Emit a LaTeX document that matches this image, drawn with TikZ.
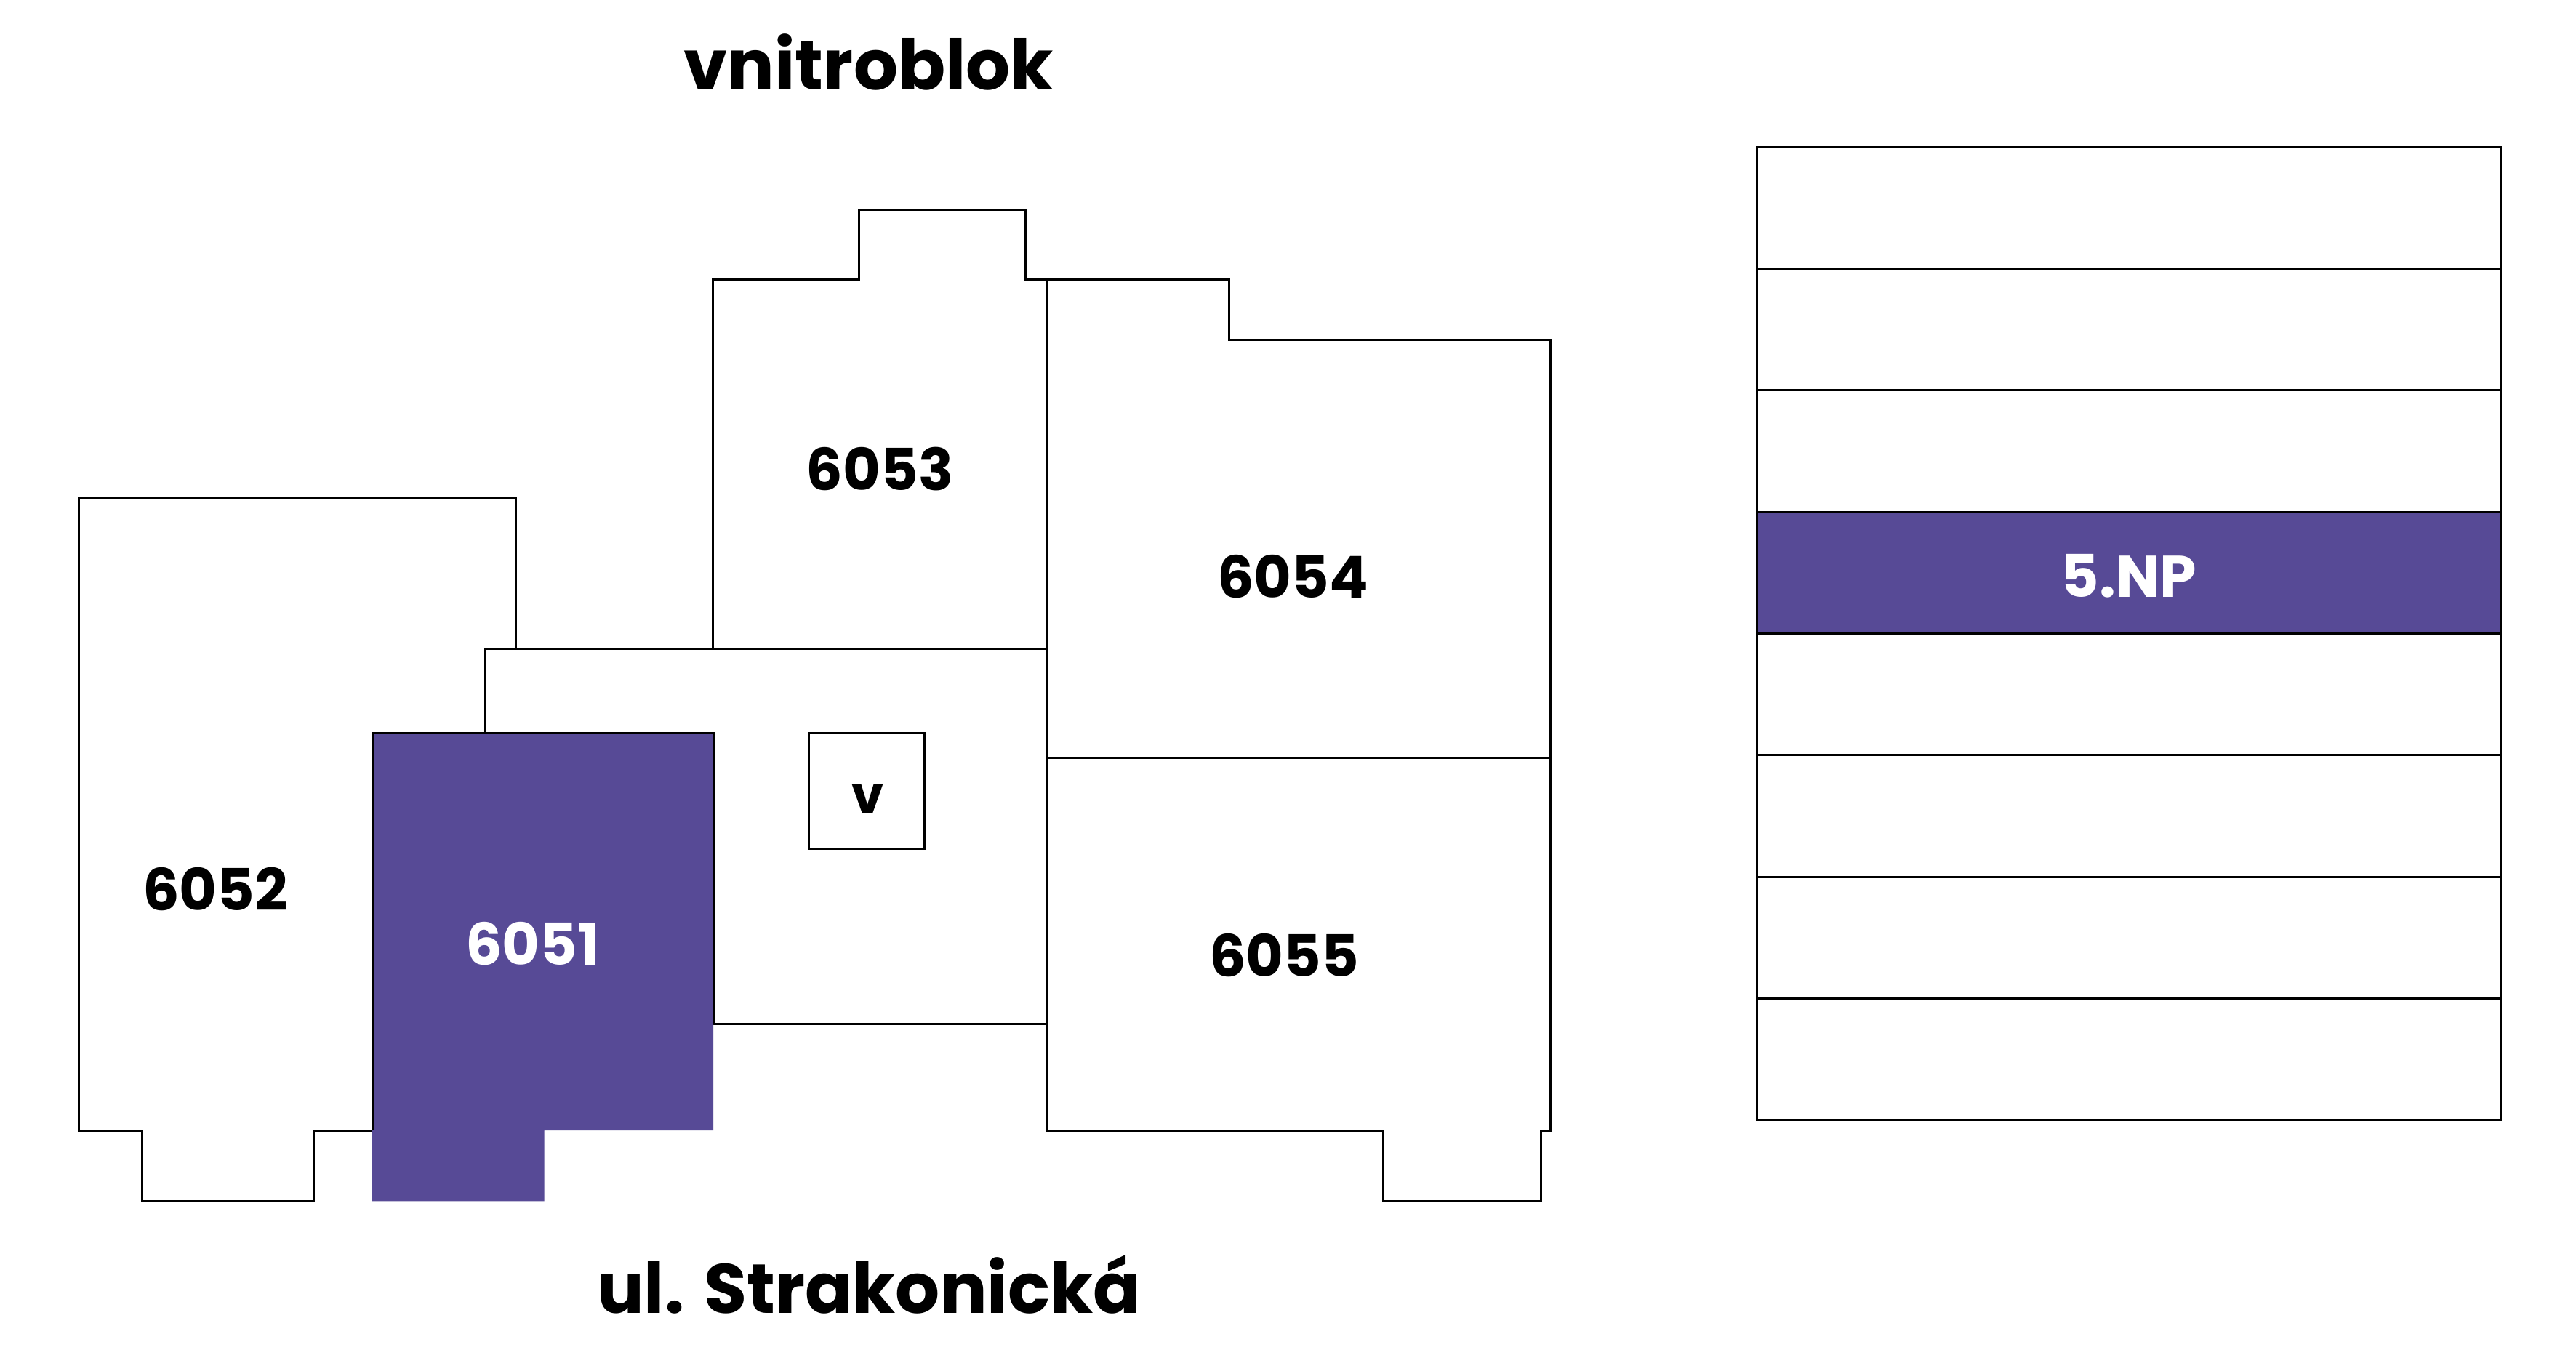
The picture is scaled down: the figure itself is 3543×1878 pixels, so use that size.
\documentclass[tikz,border=0pt]{standalone}
\usepackage{fontspec}
\setmainfont{Poppins}
\usepackage{tikz}
\usetikzlibrary{positioning, calc}
\definecolor{planviolet}{HTML}{574A96}
\tikzstyle{wall} = [line width=0.85pt, line join=miter, draw=black]
\tikzstyle{roomlabel} = [anchor=base, inner sep=0pt, font=\fontsize{22.6}{24}\selectfont\bfseries]
\tikzstyle{streetlabel} = [anchor=base, inner sep=0pt, font=\fontsize{27.3}{33}\selectfont\bfseries]
\tikzstyle{floorbar} = [rectangle, minimum width=10.22cm, minimum height=1.672cm, inner sep=0pt, line width=0.85pt, draw=black, fill=white]

\begin{document}
\begin{tikzpicture}[x=0.01cm, y=-0.01cm, node distance=1.672cm]
        \useasboundingbox [fill=white] (0,0) rectangle (3543,1878);

        % rooms of the floor plan
        \draw [wall] (512,1555) -- (431.6,1555) -- (431.6,1652.3) -- (195,1652.3) -- (195,1555) -- (108.7,1555) -- (108.7,684.3) -- (709.4,684.3) -- (709.4,892);
        \draw [wall] (667.3,1008) -- (667.3,892) -- (1440.6,892);
        \draw [wall] (981,1408.4) -- (1440.6,1408.4);
        \draw [wall] (980.6,892) -- (980.6,384.7) -- (1181.7,384.7) -- (1181.7,288.9) -- (1410,288.9) -- (1410,384.7) -- (1440.6,384.7);
        \draw [wall] (1440.6,384.7) -- (1690,384.7) -- (1690,467.9) -- (2132.6,467.9) -- (2132.6,1555) -- (2119.4,1555) -- (2119.4,1652.3) -- (1902.8,1652.3) -- (1902.8,1555) -- (1440.6,1555) -- cycle;
        \draw [wall] (1440.6,1042) -- (2132.6,1042);
        \draw [wall] (1112.2,1008) rectangle (1271.4,1167);

        % selected room
        \fill [planviolet] (512,1008) -- (981,1008) -- (981,1555) -- (748.5,1555) -- (748.5,1652.3) -- (512,1652.3) -- cycle;
        \draw [wall] (512,1555) -- (512,1008) -- (981,1008) -- (981,1408.4);

        % room numbers
        \node (room6052) [roomlabel] at (296,1252) {6052};
        \node (room6051) [roomlabel, text=white] at (732,1327) {6051};
        \node (room6053) [roomlabel] at (1210,674.5) {6053};
        \node (room6054) [roomlabel] at (1778,822.4) {6054};
        \node (room6055) [roomlabel] at (1766,1343) {6055};
        \node (lift) [roomlabel, font=\fontsize{20}{20}\selectfont\bfseries] at (1193,1118) {v};

        \node (courtyard) [streetlabel] at (1195,123) {vnitroblok};
        \node (street) [streetlabel] at (1195,1806) {ul. Strakonická};

        % floors of the building
        \node (np8) [floorbar] at (2928,286) {};
        \node (np7) [floorbar, below of=np8] {};
        \node (np6) [floorbar, below of=np7] {};
        \node (np5) [floorbar, below of=np6, fill=planviolet, text=white, text height=0.67cm, text depth=0pt, font=\fontsize{23}{24}\selectfont\bfseries] {5.NP};
        \node (np4) [floorbar, below of=np5] {};
        \node (np3) [floorbar, below of=np4] {};
        \node (np2) [floorbar, below of=np3] {};
        \node (np1) [floorbar, below of=np2] {};
\end{tikzpicture}
\end{document}
